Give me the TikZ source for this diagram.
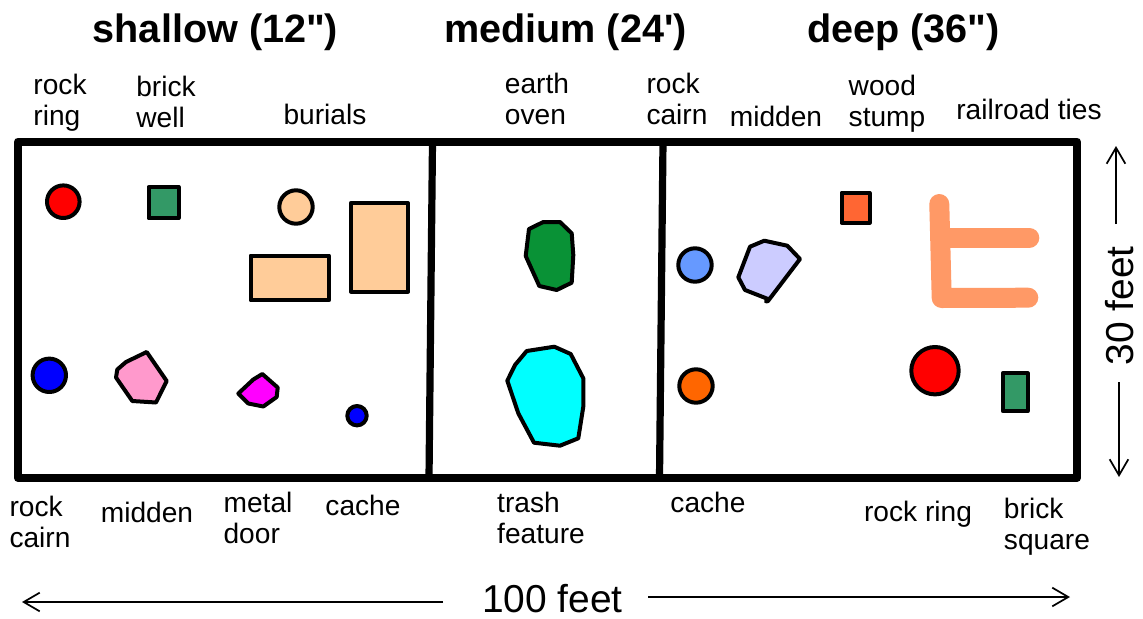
\documentclass[tikz,border=0pt]{standalone}
\usepackage{fontspec}
\usetikzlibrary{arrows.meta}
\newfontfamily\labfont{Liberation Sans}
\definecolor{brickgreen}{HTML}{339966}
\definecolor{peach}{HTML}{FFCC99}
\definecolor{pinkish}{HTML}{FF99CC}
\definecolor{magentaish}{HTML}{FF00FF}
\definecolor{darkgreen}{HTML}{099236}
\definecolor{cyanish}{HTML}{00FFFF}
\definecolor{bluish}{HTML}{6699FF}
\definecolor{lilac}{HTML}{CCCCFF}
\definecolor{orangeish}{HTML}{FF6600}
\definecolor{woodorange}{HTML}{FF6633}
\definecolor{tieorange}{HTML}{FF9966}
\tikzset{
  frameline/.style={line width=6pt,line join=round,line cap=round},
  dividerline/.style={line width=5.4pt},
  feature/.style={draw=black,line width=3pt,line join=round},
  lab/.style={font=\labfont\fontsize{21.1}{23.25}\selectfont,align=left,inner sep=0pt,anchor=base},
  head/.style={font=\labfont\bfseries\fontsize{29.7}{32}\selectfont,inner sep=0pt,anchor=base},
  dim/.style={font=\labfont\fontsize{29.2}{32}\selectfont,inner sep=0pt,anchor=base},
  dimarrow/.style={-{Straight Barb[length=12pt,width=14pt,line width=1.3pt]},line width=1.3pt},
}
\begin{document}
\begin{tikzpicture}[x=0.75pt,y=-0.75pt]
\useasboundingbox (0,0) rectangle (1143,618);
\fill[white] (0,0) rectangle (1143,618);
% frame
\draw[frameline] (18,141.5) rectangle (1077,478);
\draw[dividerline] (432.5,141.5) -- (429,478);
\draw[dividerline] (663,141.5) -- (659.5,478);
% shallow
\draw[feature,fill=red] (63.3,201.7) circle (16.3);
\draw[feature,fill=brickgreen] (148.5,187) rectangle (178.5,218.3);
\draw[feature,fill=peach] (296,207) circle (16.7);
\draw[feature,fill=peach] (250.5,255.5) rectangle (329,300.3);
\draw[feature,fill=peach] (350.7,203) rectangle (408,291.5);
\draw[feature,fill=blue] (49.3,375.3) circle (16.7);
\draw[feature,fill=pinkish] (146.7,352) -- (166.7,381) -- (156,402.5) -- (132.3,401) -- (116,377.5) -- (117.3,369.5) -- (126,362) -- cycle;
\draw[feature,fill=magentaish] (262.3,374) -- (277.7,387.5) -- (276.7,397) -- (263.3,406.5) -- (248.3,403.5) -- (238.3,393.5) -- (253.3,379.5) -- cycle;
\draw[feature,fill=blue] (357,415.7) circle (9.7);
% medium
\draw[feature,fill=darkgreen] (529,229) -- (543.3,222) -- (560,222) -- (571.7,233.3) -- (573.3,255) -- (571.7,282.7) -- (556.7,290) -- (539.3,286) -- (525.7,256) -- cycle;
\draw[feature,fill=cyanish] (526.7,351) -- (554.3,346.7) -- (570.7,354) -- (583.3,378.3) -- (583.3,406.7) -- (578.3,438.3) -- (560,445.7) -- (534,442.7) -- (518.3,413.3) -- (507.3,380.7) -- (515,365) -- cycle;
% deep
\draw[feature,fill=bluish] (695,265) circle (16.7);
\draw[feature,fill=lilac] (764.3,240.7) -- (787.3,245.7) -- (800,259) -- (768,301) -- (766,301.5) -- (768,299) -- (745,290) -- (738.3,277.3) -- (750,246.7) -- cycle;
\draw[feature,fill=orangeish] (696,386) circle (16.7);
\draw[feature,fill=woodorange] (841.5,192.7) rectangle (869.5,222.7);
\draw[tieorange,line width=15pt,line cap=round,line join=round] (939.3,204) -- (941.7,298) -- (1028.3,297.7);
\draw[tieorange,line width=15pt,line cap=round] (941,237.7) -- (1029.3,237.7);
\draw[feature,fill=red] (935,370.7) circle (23.7);
\draw[feature,fill=brickgreen] (1002.7,373.3) rectangle (1027.7,411);
% headers
\node[head] (hshallow) at (215.5,42) {shallow (12")};
\node[head] (hmedium) at (565.5,42) {medium (24')};
\node[head] (hdeep) at (903.5,42) {deep (36")};
% top labels
\node[lab] (l1) at (60,125) {rock\\ring};
\node[lab] (l2) at (166,127) {brick\\well};
\node[lab] (l3) at (325,124.5) {burials};
\node[lab] (l4) at (537,124) {earth\\oven};
\node[lab] (l5) at (677,124) {rock\\cairn};
\node[lab] (l6) at (776,126.5) {midden};
\node[lab] (l7) at (887,126) {wood\\stump};
\node[lab] (l8) at (1029,119.5) {railroad ties};
% bottom labels
\node[lab] (l9) at (40,547) {rock\\cairn};
\node[lab] (l10) at (147,522) {midden};
\node[lab] (l11) at (258,543) {metal\\door};
\node[lab] (l12) at (363,515) {cache};
\node[lab] (l13) at (541,543) {trash\\feature};
\node[lab] (l14) at (708,512) {cache};
\node[lab] (l15) at (918,521) {rock ring};
\node[lab] (l16) at (1047,549) {brick\\square};
% dimensions
\node[dim] (dh) at (552.5,612) {100 feet};
\node[dim,rotate=90] (dv) at (1133,306) {30 feet};
\coordinate (al1) at (443,602);
\coordinate (al2) at (22,602);
\coordinate (ar1) at (648,597);
\coordinate (ar2) at (1070,597);
\coordinate (av1) at (1116,224);
\coordinate (av2) at (1116,146);
\coordinate (av3) at (1119,382);
\coordinate (av4) at (1119,477);
\draw[dimarrow] (al1) -- (al2);
\draw[dimarrow] (ar1) -- (ar2);
\draw[dimarrow] (av1) -- (av2);
\draw[dimarrow] (av3) -- (av4);
\end{tikzpicture}
\end{document}
